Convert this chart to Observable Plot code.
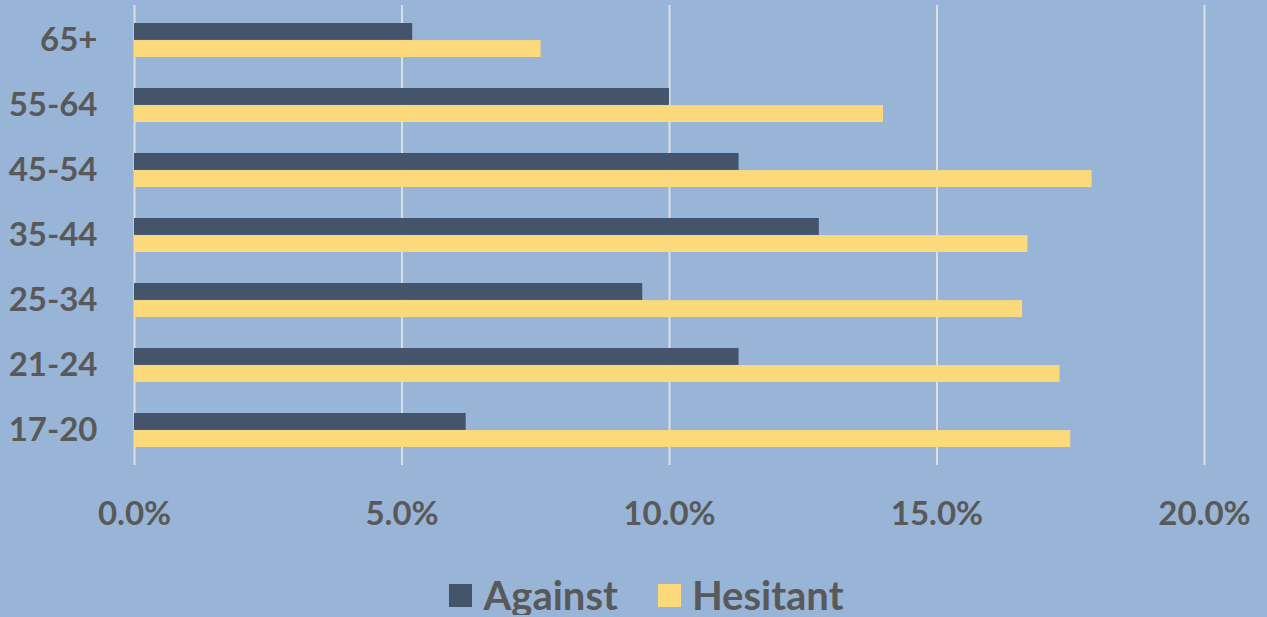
<!DOCTYPE html>
<html>
<head>
<meta charset="utf-8">
<script src="https://cdn.jsdelivr.net/npm/d3@7"></script>
<script src="https://cdn.jsdelivr.net/npm/@observablehq/plot@0.6"></script>
<style>
  html, body { margin: 0; padding: 0; background: #98B4D6; }
  #chart { width: 1267px; }
  .lg-swatches { justify-content: center; padding-left: 26px; box-sizing: border-box; width: 1267px; }
  .lg-swatch { margin-right: 40px !important; }
  .lg-swatch:last-child { margin-right: 0 !important; }
  .lg-swatch > svg { margin-right: 11px !important; }
</style>
</head>
<body>
<div id="chart"></div>
<script>
const ages = ["65+", "55-64", "45-54", "35-44", "25-34", "21-24", "17-20"];
const series = ["Against", "Hesitant"];
const against = [5.2, 10.0, 11.3, 12.8, 9.5, 11.3, 6.2];
const hesitant = [7.6, 14.0, 17.9, 16.7, 16.6, 17.3, 17.5];
const xTicks = [0, 5, 10, 15, 20];
const colors = ["#44546A", "#FCD97A"];

const rowsA = ages.map((a, i) => ({age: a, series: "Against", value: against[i] / 100}));
const rowsH = ages.map((a, i) => ({age: a, series: "Hesitant", value: hesitant[i] / 100}));

const font = "Lato, 'Open Sans', sans-serif";
const plot = Plot.plot({
  width: 1267,
  height: 575,
  marginTop: 5,
  marginBottom: 110,
  marginLeft: 134,
  marginRight: 63,
  style: {background: "#98B4D6", fontFamily: font, fontWeight: "bold", color: "#595959", overflow: "visible"},
  x: {domain: [0, 0.2], ticks: xTicks.map(d => d / 100), tickFormat: d3.format(".1%"), label: null},
  y: {domain: ages, paddingInner: 0.48, paddingOuter: 0.24, label: null},
  color: {domain: series, range: colors},
  marks: [
    Plot.gridX(xTicks.map(d => d / 100), {stroke: "#DCDEE2", strokeOpacity: 1, strokeWidth: 2}),
    Plot.barX(rowsA, {x: "value", y: "age", fill: "series", insetBottom: 17.1}),
    Plot.barX(rowsH, {x: "value", y: "age", fill: "series", insetTop: 17.1}),
    Plot.axisX(xTicks.map(d => d / 100), {tickFormat: d3.format(".1%"), tickSize: 0, tickPadding: 36, fontSize: 33, fill: "#595959", fontWeight: "bold", label: null}),
    Plot.axisY({tickSize: 0, tickPadding: 37, fontSize: 33, fill: "#595959", fontWeight: "bold", label: null})
  ]
});
document.getElementById("chart").appendChild(plot);

const legend = plot.legend("color", {
  className: "lg",
  swatchSize: 23,
  style: {fontFamily: font, fontWeight: "bold", fontSize: "40px", color: "#595959", lineHeight: "40px", height: "40px", margin: "0"}
});
document.getElementById("chart").appendChild(legend);
</script>
</body>
</html>
